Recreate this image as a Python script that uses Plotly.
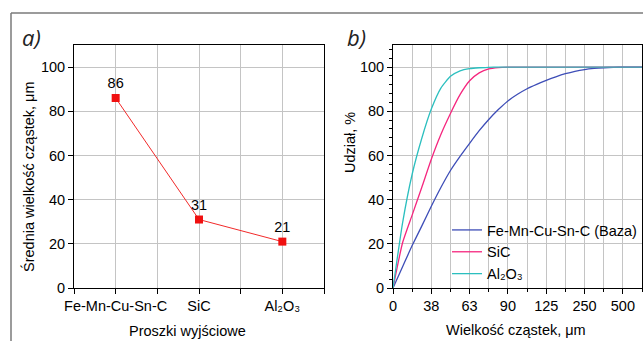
import plotly.graph_objects as go

# ---- data ----
powders = ["Fe-Mn-Cu-Sn-C", "SiC", "Al₂O₃"]
mean_size = [86, 31, 21]

sieve_labels = ["0", "38", "63", "90", "125", "250", "500"]
# positions along the sieve axis (tick index units)
curve_pos = [i * 0.25 for i in range(27)]
fe_base = [0, 9.6, 19.2, 28, 37, 45.5, 53.2, 59.6, 65.5, 71.2, 76.3, 80.8, 84.7, 87.7,
           90.2, 92.2, 94, 95.6, 97, 98.1, 98.9, 99.4, 99.7, 99.9, 100, 100, 100]
sic = [0, 20.5, 33, 45.5, 58.3, 69.5, 79, 87.5, 93.8, 97.4, 99.2, 99.8, 100] + [100] * 14
al2o3 = [0, 29.5, 51.5, 67.7, 81, 90.5, 95.8, 98.3, 99.3, 99.7, 99.9, 100, 100] + [100] * 14
series_names = ["Fe-Mn-Cu-Sn-C (Baza)", "SiC", "Al₂O₃"]

W, H = 643, 341
FONT = "Liberation Sans, Arial, sans-serif"
GRID = "#c4c4c4"
FS = 14.5

def px(x):
    return x / W

def py(y):
    return 1 - y / H

fig = go.Figure()

fig.add_trace(go.Scatter(
    x=list(range(len(powders))), y=mean_size, mode="lines+markers+text",
    text=[str(v) for v in mean_size], textposition="top center",
    textfont=dict(size=FS, color="black", family=FONT),
    line=dict(color="#f22a2a", width=1),
    marker=dict(symbol="square", size=8, color="#f01010"),
    xaxis="x", yaxis="y", showlegend=False, cliponaxis=False))

for name, ys, col in zip(series_names, [fe_base, sic, al2o3],
                         ["#3d4db7", "#f5267e", "#2bbfbf"]):
    fig.add_trace(go.Scatter(
        x=curve_pos, y=ys, mode="lines", name=name,
        line=dict(color=col, width=1.3, shape="spline", smoothing=0.5),
        xaxis="x2", yaxis="y2"))

axis_common = dict(showline=True, linecolor="black", linewidth=1, mirror=True,
                   ticks="outside", ticklen=5, tickcolor="black",
                   tickfont=dict(size=FS, color="black", family=FONT),
                   showgrid=True, gridcolor=GRID, gridwidth=1, zeroline=False)

ydom = [py(288), py(45)]

fig.update_layout(
    width=W, height=H, margin=dict(l=0, r=0, t=0, b=0, autoexpand=False),
    paper_bgcolor="white", plot_bgcolor="white",
    font=dict(family=FONT, size=FS, color="black"),
    xaxis=dict(axis_common, domain=[px(74), px(324)], range=[-0.5, 2.5],
               tickmode="array", tickvals=[0, 1, 2], ticktext=powders,
               minor=dict(tickmode="array", tickvals=[-0.5, 0.5, 1.5, 2.5],
                          ticks="outside", ticklen=5, tickcolor="black",
                          showgrid=True, gridcolor=GRID),
               anchor="y"),
    yaxis=dict(axis_common, domain=ydom, range=[0, 110],
               tickmode="array", tickvals=[0, 20, 40, 60, 80, 100], anchor="x"),
    xaxis2=dict(axis_common, domain=[px(393), px(642)], range=[0, 6.5],
                tickmode="array", tickvals=list(range(len(sieve_labels))),
                ticktext=sieve_labels,
                minor=dict(tickmode="array", tickvals=[0.5 + i for i in range(7)],
                           ticks="outside", ticklen=3, tickcolor="black",
                           showgrid=True, gridcolor=GRID),
                anchor="y2"),
    yaxis2=dict(axis_common, domain=ydom, range=[0, 110],
                tickmode="array", tickvals=[0, 20, 40, 60, 80, 100],
                minor=dict(dtick=4, ticks="outside", ticklen=3, tickcolor="black",
                           showgrid=False),
                anchor="x2"),
    legend=dict(x=px(447), y=py(214), xanchor="left", yanchor="top",
                bgcolor="rgba(0,0,0,0)", borderwidth=0,
                font=dict(size=FS, color="black", family=FONT),
                tracegroupgap=0, itemwidth=30),
    showlegend=True,
)

annotations = [
    dict(text="a)", x=px(20), y=py(37), xanchor="left", yanchor="middle",
         font=dict(size=22, family="Open Sans, sans-serif", color="#222", style="italic")),
    dict(text="b)", x=px(345), y=py(37), xanchor="left", yanchor="middle",
         font=dict(size=22, family="Open Sans, sans-serif", color="#222", style="italic")),
    dict(text="Średnia wielkość cząstek, μm", x=px(28), y=py(177), textangle=-90,
         xanchor="center", yanchor="middle", font=dict(size=FS)),
    dict(text="Proszki wyjściowe", x=px(187), y=py(331), xanchor="center",
         yanchor="middle", font=dict(size=FS)),
    dict(text="Udział, %", x=px(350), y=py(143), textangle=-90,
         xanchor="center", yanchor="middle", font=dict(size=FS)),
    dict(text="Wielkość cząstek, μm", x=px(516), y=py(330), xanchor="center",
         yanchor="middle", font=dict(size=FS)),
]
for a in annotations:
    a.update(xref="paper", yref="paper", showarrow=False)
fig.update_layout(annotations=annotations)

fig.update_layout(shapes=[
    dict(type="line", xref="paper", yref="paper", x0=px(11), x1=1, y0=py(13), y1=py(13),
         line=dict(color="#7a7a7a", width=1.5)),
    dict(type="line", xref="paper", yref="paper", x0=px(11), x1=px(11), y0=py(13), y1=0,
         line=dict(color="#7a7a7a", width=1.5)),
])

post = "document.body.style.margin='0';document.body.style.overflow='hidden';"

fig.write_html("out.html", config={"displayModeBar": False}, post_script=post)
